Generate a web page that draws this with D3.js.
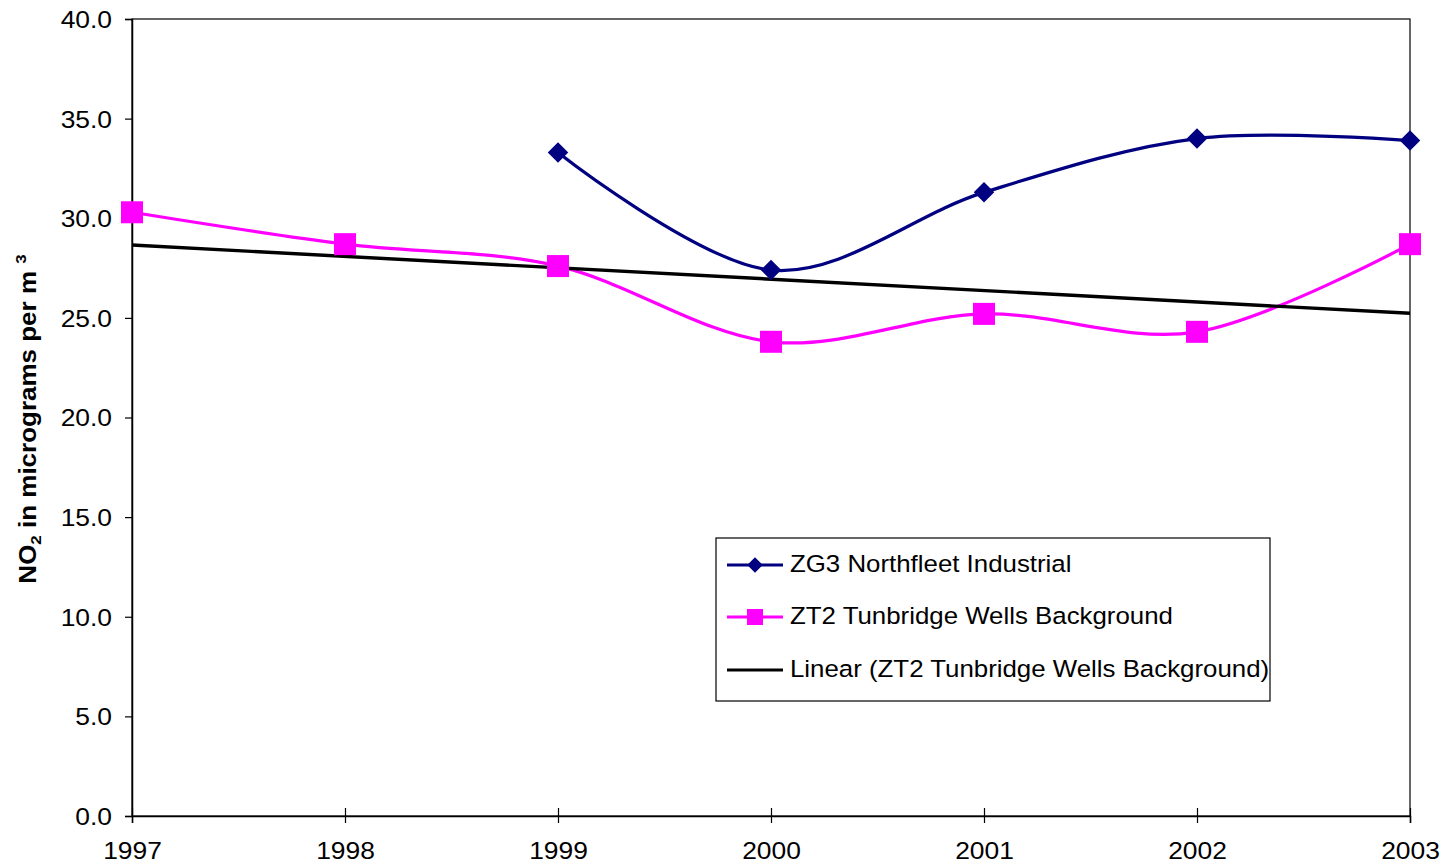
<!DOCTYPE html>
<html>
<head>
<meta charset="utf-8">
<script src="https://cdn.jsdelivr.net/npm/d3@7"></script>
<style>
  html, body { margin: 0; padding: 0; background: #fff; }
  svg { display: block; }
  text { font-family: Arial, "Liberation Sans", sans-serif; fill: #000; }
</style>
</head>
<body>
<svg id="chart" width="1444" height="867"></svg>
<script>
const years = [1997, 1998, 1999, 2000, 2001, 2002, 2003];
const yTicks = [0, 5, 10, 15, 20, 25, 30, 35, 40];
const seriesNames = ["ZG3 Northfleet Industrial", "ZT2 Tunbridge Wells Background", "Linear (ZT2 Tunbridge Wells Background)"];
const zg3Values = [null, null, 33.3, 27.4, 31.3, 34.0, 33.9];
const zt2Values = [30.3, 28.7, 27.6, 23.8, 25.2, 24.3, 28.7];
const colors = ["#000080", "#FF00FF", "#000000"];

const svg = d3.select("#chart");
const SX = 1.1; // horizontal text stretch of the original rendering

const x = d3.scaleLinear().domain([1997, 2003]).range([132, 1410]);
const y = d3.scaleLinear().domain([0, 40]).range([816, 19]);

// plot area border
svg.append("rect")
  .attr("x", x(1997)).attr("y", y(40))
  .attr("width", x(2003) - x(1997)).attr("height", y(0) - y(40))
  .attr("fill", "none").attr("stroke", "#000").attr("stroke-width", 1.2);

// Y axis
const yAxis = d3.axisLeft(y).tickValues(yTicks).tickFormat(d3.format(".1f")).tickSize(7).tickPadding(12);
const gy = svg.append("g").attr("transform", `translate(${x(1997)},0)`).call(yAxis);
gy.select(".domain").attr("stroke", "#000").attr("stroke-width", 1.5);
gy.selectAll(".tick line").attr("stroke", "#000").attr("stroke-width", 1.2);
gy.selectAll(".tick text").style("font-size", "24px")
  .attr("font-family", "Arial, 'Liberation Sans', sans-serif")
  .attr("x", 0).attr("dy", "0.35em")
  .attr("transform", `translate(-20,0) scale(${SX},1)`);

// X axis
const xAxis = d3.axisBottom(x).tickValues(years).tickFormat(d3.format("d")).tickSize(7).tickPadding(19);
const gx = svg.append("g").attr("transform", `translate(0,${y(0)})`).call(xAxis);
gx.select(".domain").attr("stroke", "#000").attr("stroke-width", 1.5);
gx.selectAll(".tick line").attr("stroke", "#000").attr("stroke-width", 1.2).attr("y1", -8);
gx.selectAll(".tick text").style("font-size", "24px")
  .attr("font-family", "Arial, 'Liberation Sans', sans-serif")
  .attr("dy", "0.71em").attr("transform", `scale(${SX},1)`);

// Y axis label
const yl = svg.append("text")
  .attr("transform", `translate(36,419) rotate(-90) scale(1.13,1)`)
  .attr("text-anchor", "middle")
  .style("font-size", "23px").style("font-weight", "bold");
yl.append("tspan").text("NO");
yl.append("tspan").text("2").style("font-size", "15px").attr("dy", 5);
yl.append("tspan").text(" in micrograms per m ").attr("dy", -5);
yl.append("tspan").text("3").style("font-size", "15px").attr("dy", -10);

// Trend line (least squares on ZT2)
const pts = years.map((yr, i) => [yr, zt2Values[i]]);
const mx = d3.mean(pts, p => p[0]), my = d3.mean(pts, p => p[1]);
const slope = d3.sum(pts, p => (p[0] - mx) * (p[1] - my)) / d3.sum(pts, p => (p[0] - mx) ** 2);
const intercept = my - slope * mx;
const trend = [years[0], years[years.length - 1]].map(yr => [yr, intercept + slope * yr]);

const line = d3.line().x(d => x(d[0])).y(d => y(d[1])).curve(d3.curveCardinal.tension(0));
const straight = d3.line().x(d => x(d[0])).y(d => y(d[1]));

const zg3 = years.map((yr, i) => [yr, zg3Values[i]]).filter(d => d[1] != null);
const zt2 = years.map((yr, i) => [yr, zt2Values[i]]);

svg.append("path").datum(zt2).attr("d", line)
  .attr("fill", "none").attr("stroke", colors[1]).attr("stroke-width", 3.2);
svg.append("path").datum(zg3).attr("d", line)
  .attr("fill", "none").attr("stroke", colors[0]).attr("stroke-width", 3.2);
svg.append("path").datum(trend).attr("d", straight)
  .attr("fill", "none").attr("stroke", colors[2]).attr("stroke-width", 3.4);

// markers
const diamond = d3.symbol().type(d3.symbolSquare).size(14.5 * 14.5);
svg.selectAll(".dmk").data(zg3).join("path")
  .attr("d", diamond)
  .attr("transform", d => `translate(${x(d[0])},${y(d[1])}) rotate(45)`)
  .attr("fill", colors[0]);
svg.selectAll(".smk").data(zt2).join("rect")
  .attr("x", d => x(d[0]) - 11).attr("y", d => y(d[1]) - 11)
  .attr("width", 22).attr("height", 22)
  .attr("fill", colors[1]);

// Legend
const lg = svg.append("g");
lg.append("rect").attr("x", 716).attr("y", 538).attr("width", 554).attr("height", 163)
  .attr("fill", "#fff").attr("stroke", "#000").attr("stroke-width", 1.2);
const rowsY = [564, 616, 669];
seriesNames.forEach((name, i) => {
  const yy = rowsY[i];
  lg.append("line").attr("x1", 727).attr("x2", 783).attr("y1", yy + 1).attr("y2", yy + 1)
    .attr("stroke", colors[i]).attr("stroke-width", 3.2);
  if (i === 0) {
    lg.append("path").attr("d", d3.symbol().type(d3.symbolSquare).size(11 * 11))
      .attr("transform", `translate(755,${yy + 1}) rotate(45)`).attr("fill", colors[0]);
  } else if (i === 1) {
    lg.append("rect").attr("x", 747).attr("y", yy - 7).attr("width", 16).attr("height", 16).attr("fill", colors[1]);
  }
  lg.append("text").attr("x", 0).attr("y", 0).attr("dy", "0.35em")
    .attr("transform", `translate(790,${yy}) scale(${SX},1)`)
    .style("font-size", "23.5px").text(name);
});
</script>
</body>
</html>
